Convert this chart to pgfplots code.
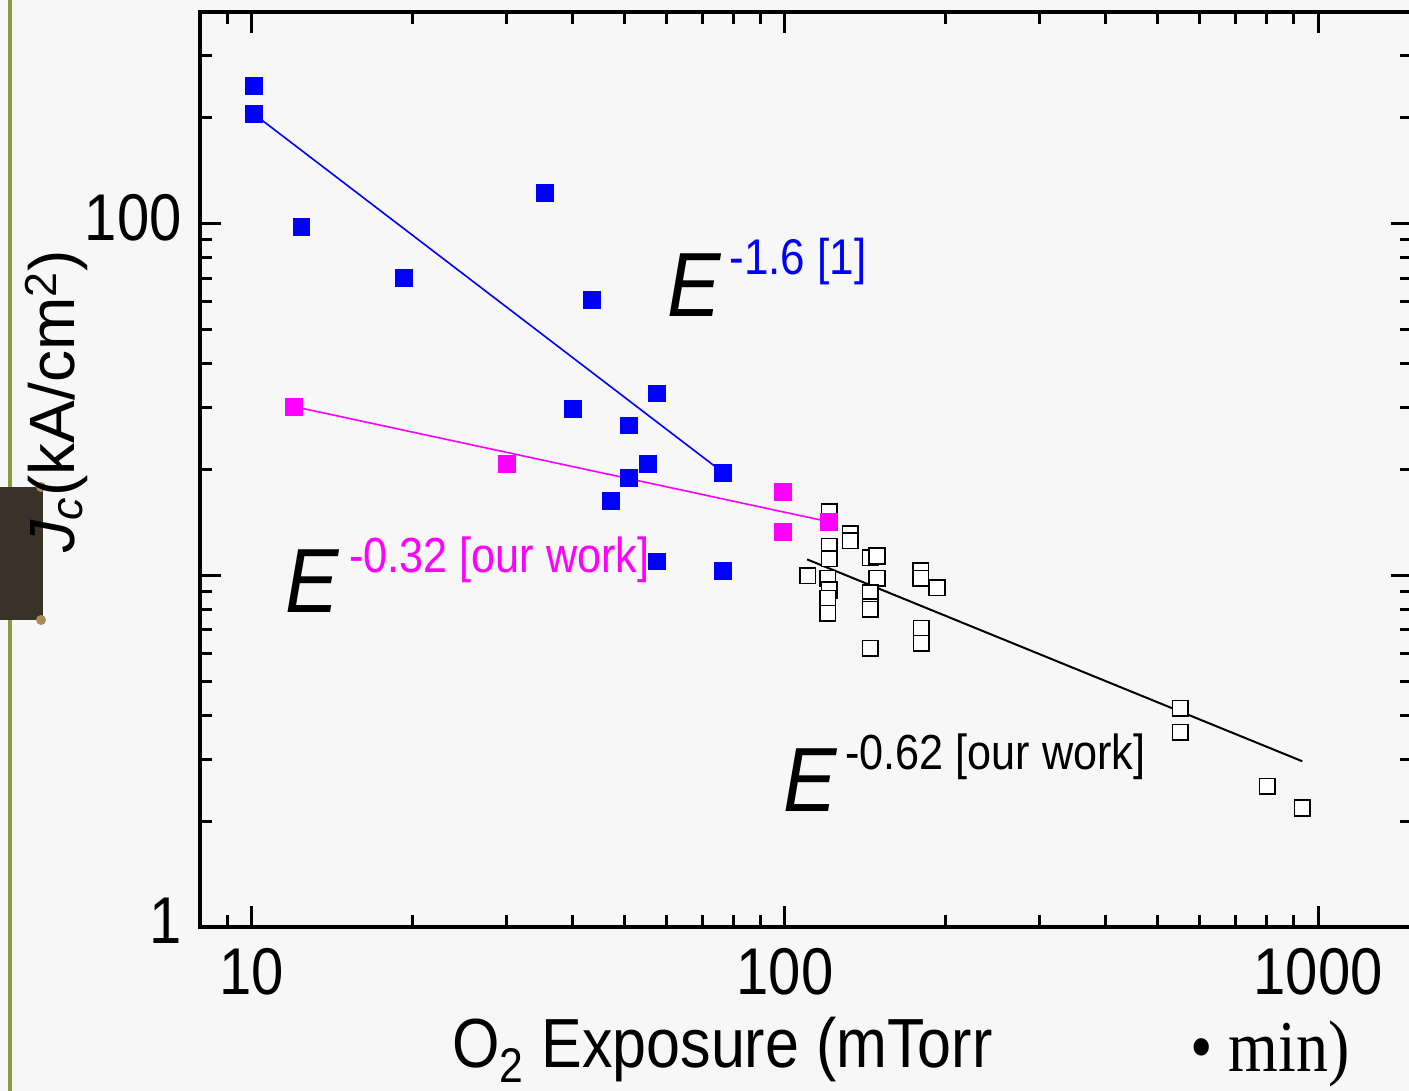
\documentclass[border=0pt]{standalone}
\usepackage{pgfplots}
\pgfplotsset{compat=1.18}
\usepackage{graphicx}
\usepackage{fontspec}
\setmainfont{Liberation Sans}
\newfontfamily\timesfont{Liberation Serif}
\definecolor{bgc}{RGB}{247,247,247}
\definecolor{olivec}{RGB}{140,155,60}
\definecolor{brownc}{RGB}{58,49,40}
\definecolor{tanc}{RGB}{170,140,90}
\definecolor{mag}{RGB}{255,0,255}
\definecolor{blu}{RGB}{0,0,255}
\newcommand\tall[1]{\scalebox{1}[1.14]{#1}}

\begin{document}
\begin{tikzpicture}
\fill[bgc] (-100pt,-82pt) rectangle (604.5pt,463.5pt);
\draw[olivec, line width=2pt] (-95pt,-82pt) -- (-95pt,463.5pt);
\fill[brownc] (-100pt,153.5pt) rectangle (-78.5pt,220pt);
\fill[tanc] (-79.5pt,220pt) circle (2.5pt);
\fill[tanc] (-79.5pt,153.5pt) circle (2.5pt);
\begin{axis}[
  at={(0pt,0pt)}, anchor=south west,
  scale only axis, width=606pt, height=457.5pt,
  xmode=log, ymode=log,
  xmin=8, xmax=1500, ymin=1, ymax=400,
  xtick={10,100,1000}, xticklabels={\tall{10},\tall{100},\tall{1000}},
  ytick={1,10,100}, yticklabels={\tall{1},{},\tall{100}},
  minor xtick={9,20,30,40,50,60,70,80,90,200,300,400,500,600,700,800,900},
  minor ytick={2,3,4,5,6,7,8,9,20,30,40,50,60,70,80,90,200,300},
  tick align=inside,
  major tick length=10.5pt, minor tick length=6pt,
  tick style={black, line width=1.5pt},
  axis line style={line width=2pt},
  ticklabel style={font=\fontsize{29}{35}\selectfont},
  xticklabel style={inner sep=0pt, anchor=north, yshift=-10.5pt},
  yticklabel style={inner sep=0pt, anchor=east, xshift=-9pt, yshift=3pt},
]
% black open squares
\addplot[only marks, mark=square*, mark size=3.9pt, mark options={fill=white, draw=black, line width=0.8pt}] table {
x y
121.2 15.17
132.6 13.14
132.6 12.55
121.2 12.11
121.2 11.15
110.3 9.98
144.5 11.23
148.8 11.35
120.4 9.81
121.2 9.08
120.4 8.60
120.4 7.80
148.8 9.81
144.5 8.93
144.5 8.15
144.5 8.0
179.9 10.31
179.9 9.81
192.8 9.23
180.2 7.07
180.2 6.41
144.5 6.20
551.8 4.19
551.8 3.58
803 2.515
934 2.18
};
\addplot[black, line width=1pt] table {
x y
110.1 11.1
934 2.96
};
% magenta
\addplot[mag, line width=0.8pt] table {
x y
12.0 30.2
121 14.2
};
\addplot[only marks, mark=square*, mark size=4.2pt, mark options={fill=mag, draw=mag, line width=0.4pt}] table {
x y
12.0 30.2
30.1 20.7
99.3 17.3
99.0 13.3
121 14.2
};
% blue
\addplot[blu, line width=0.8pt] table {
x y
10.1 205
76.6 19.6
};
\addplot[only marks, mark=square*, mark size=4.2pt, mark options={fill=blu, draw=blu, line width=0.4pt}] table {
x y
10.1 246
10.1 205
12.4 98
19.3 70.2
35.5 122.5
43.5 60.8
57.6 32.9
40.1 29.8
51.0 26.7
55.4 20.8
51.0 18.9
47.2 16.3
76.6 19.6
57.6 10.96
76.6 10.3
};
\end{axis}
% axis labels
\node[rotate=90, anchor=base west, inner sep=0pt, font=\fontsize{32}{38}\selectfont] at (-62.5pt,187pt) {\textit{J}\textsubscript{\textit{c}}(kA/cm\textsuperscript{2})};
\node[anchor=base west, inner sep=0pt, font=\fontsize{30.5}{36}\selectfont] at (126pt,-70.5pt) {\tall{O\textsubscript{2} Exposure (mTorr}};
\node[anchor=base west, inner sep=0pt, font=\timesfont\fontsize{32}{38}\selectfont] at (495pt,-72.5pt) {\tall{• min)}};
% annotations
\node[anchor=base west, inner sep=0pt, font=\fontsize{40}{48}\selectfont\itshape] at (233.5pt,305pt) {\tall{E}};
\node[anchor=base west, inner sep=0pt, text=blu, font=\fontsize{22}{26}\selectfont] at (264.5pt,326pt) {\tall{-1.6 [1]}};
\node[anchor=base west, inner sep=0pt, font=\fontsize{40}{48}\selectfont\itshape] at (42.5pt,157pt) {\tall{E}};
\node[anchor=base west, inner sep=0pt, text=mag, font=\fontsize{21.6}{26}\selectfont] at (74.5pt,177pt) {\tall{-0.32 [our work]}};
\node[anchor=base west, inner sep=0pt, font=\fontsize{40}{48}\selectfont\itshape] at (291.5pt,57.5pt) {\tall{E}};
\node[anchor=base west, inner sep=0pt, font=\fontsize{21.6}{26}\selectfont] at (322.5pt,78.5pt) {\tall{-0.62 [our work]}};
\pgfresetboundingbox
\useasboundingbox (-100pt,-82pt) rectangle (604.5pt,463.5pt);
\end{tikzpicture}
\end{document}
